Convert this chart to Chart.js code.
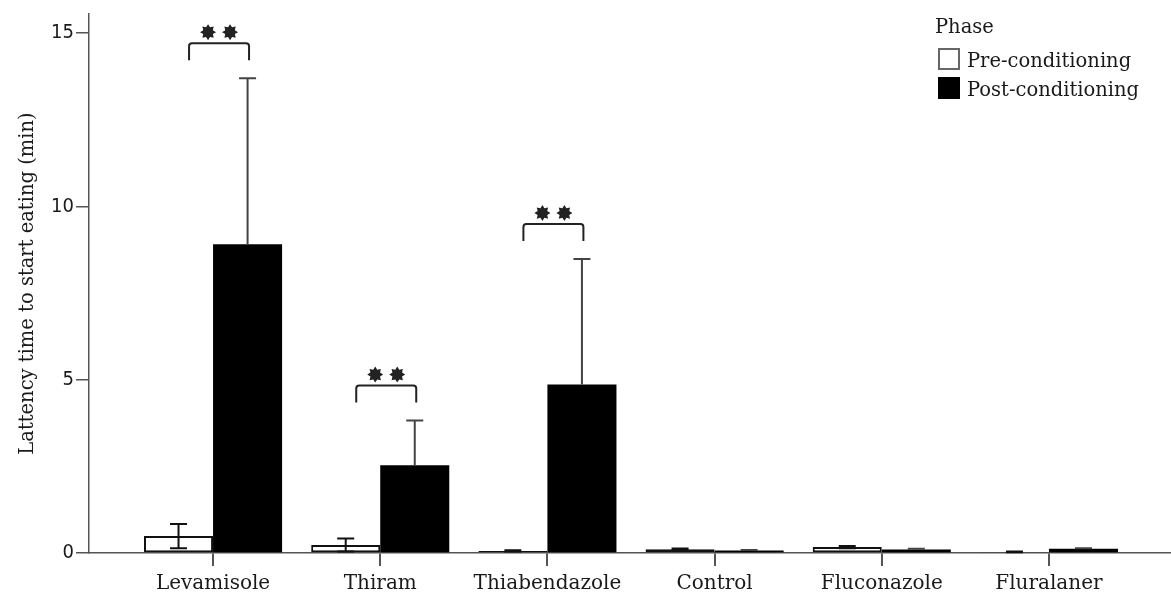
<!DOCTYPE html>
<html><head><meta charset="utf-8">
<script src="https://cdn.jsdelivr.net/npm/chart.js@4/dist/chart.umd.min.js"></script>
<style>html,body{margin:0;padding:0;background:#fff;} #wrap{width:1171px;height:598px;position:relative;}</style>
</head><body><div id="wrap"><canvas id="c"></canvas></div>
<script>
const categories = ['Levamisole','Thiram','Thiabendazole','Control','Fluconazole','Fluralaner'];
const preMeans   = [0.49, 0.23, 0.06, 0.11, 0.17, 0.03];
const preErrors  = [0.35, 0.19, 0.02, 0.02, 0.03, 0.01];
const postMeans  = [8.91, 2.53, 4.86, 0.07, 0.10, 0.12];
const postErrors = [4.79, 1.29, 3.62, 0.02, 0.02, 0.02];
const significance = ['**','**','**','','',''];
const yTickValues = [0, 5, 10, 15];
const seriesNames = ['Pre-conditioning','Post-conditioning'];
const legendTitle = 'Phase';
const yAxisTitle = 'Lattency time to start eating (min)';

const FONT = '"DejaVu Serif", serif';
const NUMFONT = '"Liberation Sans Narrow", "DejaVu Sans Condensed", sans-serif';
const TEXT = '#1a1a1a';
const AXIS = '#555';

const errorBars = {
  id: 'errorBars',
  afterDatasetsDraw(chart) {
    const ctx = chart.ctx, ys = chart.scales.y;
    chart.data.datasets.forEach((ds, di) => {
      const meta = chart.getDatasetMeta(di);
      meta.data.forEach((bar, i) => {
        const m = ds.data[i].y, e = ds.errors[i];
        const x = bar.x;
        const yTop = ys.getPixelForValue(m + e);
        const yMid = ys.getPixelForValue(m);
        const yBot = ys.getPixelForValue(Math.max(0, m - e));
        ctx.save();
        ctx.lineWidth = 2;
        ctx.strokeStyle = ds.errorColor;
        ctx.beginPath();
        ctx.moveTo(x, yTop); ctx.lineTo(x, ds.errorBoth ? yBot : yMid);
        ctx.moveTo(x - 8.5, yTop); ctx.lineTo(x + 8.5, yTop);
        if (ds.errorBoth) { ctx.moveTo(x - 8.5, yBot); ctx.lineTo(x + 8.5, yBot); }
        ctx.stroke();
        ctx.restore();
      });
    });
  }
};

function drawStar(ctx, cx, cy, ro, ri, n) {
  ctx.beginPath();
  for (let k = 0; k < 2 * n; k++) {
    const r = k % 2 === 0 ? ro : ri;
    const a = -Math.PI / 2 + k * Math.PI / n;
    const px = cx + r * Math.cos(a), py = cy + r * Math.sin(a);
    if (k === 0) ctx.moveTo(px, py); else ctx.lineTo(px, py);
  }
  ctx.closePath();
  ctx.fill();
}

const sigBrackets = {
  id: 'sigBrackets',
  afterDatasetsDraw(chart) {
    const ctx = chart.ctx, xs = chart.scales.x, ys = chart.scales.y;
    significance.forEach((s, i) => {
      if (!s) return;
      const topVal = Math.max(preMeans[i] + preErrors[i], postMeans[i] + postErrors[i]);
      const by = ys.getPixelForValue(topVal) - 35;
      const cx = xs.getPixelForValue(i) + 6;
      const half = 30, leg = 17, r = 3;
      ctx.save();
      ctx.strokeStyle = '#222'; ctx.lineWidth = 2; ctx.lineJoin = 'round';
      ctx.beginPath();
      ctx.moveTo(cx - half, by + leg);
      ctx.arcTo(cx - half, by, cx, by, r);
      ctx.arcTo(cx + half, by, cx + half, by + leg, r);
      ctx.lineTo(cx + half, by + leg);
      ctx.stroke();
      ctx.fillStyle = '#222';
      const n = s.length, gap = 22;
      for (let k = 0; k < n; k++) {
        const sx = cx - (n - 1) * gap / 2 + k * gap;
        drawStar(ctx, sx, by - 11, 8, 5.2, 8);
      }
      ctx.restore();
    });
  }
};

const phaseLegend = {
  id: 'phaseLegend',
  afterDraw(chart) {
    const ctx = chart.ctx;
    const x0 = 935, boxX = 938, textX = 967;
    ctx.save();
    ctx.fillStyle = TEXT;
    ctx.textBaseline = 'alphabetic';
    ctx.font = '19.5px ' + FONT;
    ctx.fillText(legendTitle, x0, 33);
    chart.data.datasets.forEach((ds, i) => {
      const top = 48 + i * 29;
      ctx.fillStyle = ds.backgroundColor;
      ctx.fillRect(boxX, top, 22, 22);
      ctx.lineWidth = 2;
      ctx.strokeStyle = i === 0 ? '#666' : '#000';
      ctx.strokeRect(boxX + 1, top + 1, 20, 20);
      ctx.fillStyle = TEXT;
      ctx.fillText(ds.label, textX, top + 19);
    });
    ctx.restore();
  }
};

new Chart(document.getElementById('c'), {
  type: 'bar',
  data: {
    datasets: [
      {
        label: seriesNames[0],
        data: preMeans.map((v, i) => ({ x: i, y: v })),
        errors: preErrors, errorBoth: true, errorColor: '#111',
        backgroundColor: '#ffffff', borderColor: '#111', borderWidth: 2, borderSkipped: false
      },
      {
        label: seriesNames[1],
        data: postMeans.map((v, i) => ({ x: i, y: v })),
        errors: postErrors, errorBoth: false, errorColor: '#444',
        backgroundColor: '#000000', borderColor: '#000', borderWidth: 0
      }
    ]
  },
  plugins: [errorBars, sigBrackets, phaseLegend],
  options: {
    responsive: true,
    maintainAspectRatio: false,
    animation: false,
    devicePixelRatio: 1,
    layout: { padding: { top: 12, right: 0, left: 0, bottom: 0 } },
    plugins: { legend: { display: false }, tooltip: { enabled: false } },
    datasets: { bar: { categoryPercentage: 0.826, barPercentage: 1.0, grouped: true } },
    scales: {
      x: {
        type: 'linear',
        min: -0.742, max: 5.73,
        offset: false,
        afterBuildTicks: (s) => { s.ticks = categories.map((_, i) => ({ value: i })); },
        afterFit: (s) => { s.height = 45; },
        ticks: {
          autoSkip: false, maxRotation: 0, minRotation: 0, padding: 6,
          color: TEXT, font: { family: FONT, size: 20 },
          callback: (v) => categories[v]
        },
        grid: { display: true, offset: false, drawOnChartArea: false, drawTicks: true, tickLength: 13, color: AXIS, lineWidth: 2 },
        border: { display: true, color: AXIS, width: 1.5 }
      },
      y: {
        min: 0, max: 15.55,
        afterBuildTicks: (s) => { s.ticks = yTickValues.map(v => ({ value: v })); },
        afterFit: (s) => { s.width = 89; },
        ticks: { color: TEXT, padding: 2, font: { family: NUMFONT, size: 20 } },
        grid: { display: true, drawOnChartArea: false, drawTicks: true, tickLength: 13, color: AXIS, lineWidth: 1.5 },
        border: { display: true, color: AXIS, width: 1.5 },
        title: { display: true, text: yAxisTitle, color: TEXT, font: { family: FONT, size: 19.5 }, padding: { top: 16, bottom: 0 } }
      }
    }
  }
});
</script>
</body></html>
